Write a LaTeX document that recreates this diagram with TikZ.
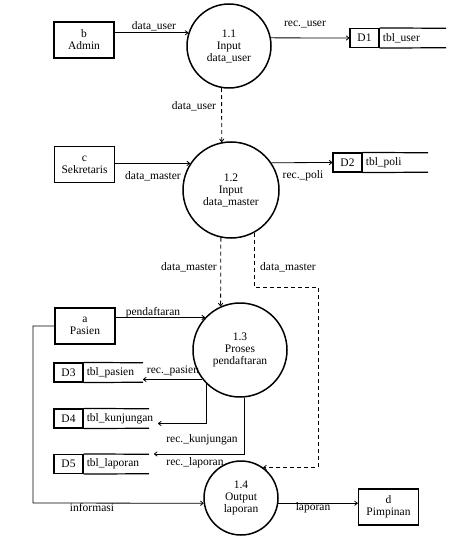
\documentclass[tikz,border=0pt]{standalone}
\usepackage{fontspec}
\setmainfont{Liberation Serif}
\usetikzlibrary{positioning,arrows.meta}

\tikzset{
  entity/.style={draw, line width=1.5pt, minimum width=60pt, minimum height=36pt, inner sep=1pt, align=center},
  proc/.style={circle, draw, line width=1.5pt, inner sep=0pt, align=center},
  sid/.style={draw, line width=1.2pt, minimum width=29pt, minimum height=19pt, inner sep=0pt},
  sname/.style={minimum height=19pt, inner xsep=3pt, inner ysep=0pt, align=left},
  sline/.style={line width=1.2pt},
  flow/.style={-{To[length=3.5pt,width=5pt]}, line width=0.8pt},
  dflow/.style={flow, dash pattern=on 4pt off 3pt},
  lbl/.style={inner sep=0pt}
}

\begin{document}
\begin{tikzpicture}[x=1pt, y=-1pt, font=\fontsize{11.5}{12}\selectfont]
        \useasboundingbox (0,0) rectangle (470,556);

        \node[entity] (admin) at (84,40) {b\\Admin};
        \node[entity] (sek) at (84.5,164.5) {c\\Sekretaris};
        \node[entity] (pasien) at (85,326) {a\\Pasien};
        \node[entity] (pimpinan) at (388.5,507) {d\\Pimpinan};

        \node[proc, minimum size=84pt] (p11) at (229,46) {1.1\\Input\\data\_user};
        \node[proc, minimum size=96pt] (p12) at (231,190) {1.2\\Input\\data\_master};
        \node[proc, minimum size=94pt] (p13) at (240,350) {1.3\\Proses\\pendaftaran};
        \node[proc, minimum size=74pt] (p14) at (241,498) {1.4\\Output\\laporan};

        \node[sid] (d1) at (364.5,38) {D1};
        \node[sname, right=0pt of d1, text width=60pt] (d1n) {tbl\_user};
        \node[sid] (d2) at (347.5,162.5) {D2};
        \node[sname, right=0pt of d2, text width=59pt] (d2n) {tbl\_poli};
        \node[sid] (d3) at (68.5,372.5) {D3};
        \node[sname, right=0pt of d3, text width=53pt] (d3n) {tbl\_pasien};
        \node[sid] (d4) at (68.5,418.5) {D4};
        \node[sname, right=0pt of d4, text width=59pt] (d4n) {tbl\_kunjungan};
        \node[sid] (d5) at (68.5,464) {D5};
        \node[sname, right=0pt of d5, text width=59pt] (d5n) {tbl\_laporan};
        \foreach \s in {d1,d2,d3,d4,d5} {
          \draw[sline] (\s.north east) -- (\s n.north east);
          \draw[sline] (\s.south east) -- (\s n.south east);
        }

        \coordinate (bend1) at (318,287);
        \coordinate (bend2) at (33,503);

        \draw[flow] (admin.east |- p11.162) -- (p11.162);
        \draw[flow] (p11.11) -- (d1.west);
        \draw[dflow] (p11.260) -- (p12.101);
        \draw[flow] (sek.east |- p12.147) -- (p12.147);
        \draw[flow] (p12.34) -- (d2.west);
        \draw[dflow] (p12.258) -- (p13.114);
        \draw[dflow] (p12.299) |- (bend1) |- (p14.54);
        \draw[flow] (pasien.east |- p13.137) -- (p13.137);
        \draw[flow] (p13.218) -- (p13.218 -| d3n.east);
        \draw[flow] (p13.225) |- ([shift={(9,5)}]d4n.east);
        \draw[flow] (p13.275) |- ([shift={(5,-10)}]d5n.east);
        \draw[flow] (pasien.west) -| (bend2) -- (p14.188);
        \draw[flow] (p14.352) -- (p14.352 -| pimpinan.west);

        \node[lbl] (l1) at (154,26) {data\_user};
        \node[lbl] (l2) at (305,25) {rec.\_user};
        \node[lbl] (l3) at (194,106) {data\_user};
        \node[lbl] (l4) at (153,176) {data\_master};
        \node[lbl] (l5) at (303,176) {rec.\_poli};
        \node[lbl] (l6) at (189,267) {data\_master};
        \node[lbl] (l7) at (288,267) {data\_master};
        \node[lbl] (l8) at (153,313) {pendaftaran};
        \node[lbl] (l9) at (173,371) {rec.\_pasien};
        \node[lbl] (l10) at (202,440) {rec.\_kunjungan};
        \node[lbl] (l11) at (195,463) {rec.\_laporan};
        \node[lbl] (l12) at (92,508) {informasi};
        \node[lbl] (l13) at (313,508) {laporan};
    \end{tikzpicture}
\end{document}
